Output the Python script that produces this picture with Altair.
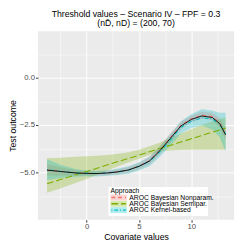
import altair as alt
import pandas as pd

# Covariate grid
x_vals = [-3.77, -2.5, -1, 0, 1, 2, 3, 4, 5, 6, 7, 8, 9, 10, 11, 12, 12.7, 13.27]

# True threshold curve (black)
true_curve = [-4.88, -4.95, -5.03, -5.05, -5.06, -5.03, -4.97, -4.87, -4.68, -4.40,
              -3.85, -3.20, -2.55, -2.20, -2.02, -2.10, -2.42, -3.02]

approaches = ["AROC Bayesian Nonparam.", "AROC Bayesian Semipar.", "AROC Kernel-based"]
colors = ["#F8766D", "#7CAE00", "#00BFC4"]
dashes = [[4, 3], [7, 3], [1, 2, 4, 2]]

# AROC Bayesian Nonparam.
np_est = [-4.87, -4.95, -5.03, -5.05, -5.06, -5.03, -4.97, -4.87, -4.67, -4.38,
          -3.82, -3.17, -2.52, -2.17, -1.98, -2.05, -2.38, -2.98]
np_lo = [-5.17, -5.17, -5.18, -5.17, -5.18, -5.15, -5.10, -5.02, -4.84, -4.58,
         -4.04, -3.39, -2.72, -2.35, -2.16, -2.25, -2.63, -3.28]
np_hi = [-4.57, -4.73, -4.88, -4.93, -4.94, -4.91, -4.84, -4.72, -4.50, -4.18,
         -3.60, -2.95, -2.32, -1.99, -1.80, -1.85, -2.13, -2.68]

# AROC Bayesian Semipar.
sp_est = [-5.60, -5.38, -5.12, -4.95, -4.78, -4.60, -4.43, -4.26, -4.09, -3.91,
          -3.74, -3.57, -3.40, -3.22, -3.05, -2.88, -2.76, -2.66]
sp_lo = [-6.08, -5.85, -5.55, -5.35, -5.12, -4.90, -4.68, -4.48, -4.28, -4.08,
         -3.90, -3.84, -3.82, -3.80, -3.80, -3.80, -3.80, -3.80]
sp_hi = [-4.25, -4.22, -4.18, -4.15, -4.12, -4.08, -4.02, -3.93, -3.80, -3.62,
         -3.42, -3.18, -2.95, -2.72, -2.50, -2.30, -2.18, -2.10]

# AROC Kernel-based
kb_est = [-4.85, -4.95, -5.03, -5.05, -5.06, -5.03, -4.97, -4.87, -4.68, -4.42,
          -3.90, -3.28, -2.62, -2.30, -2.12, -2.18, -2.45, -2.95]
kb_lo = [-5.40, -5.30, -5.23, -5.20, -5.21, -5.18, -5.14, -5.07, -4.90, -4.67,
         -4.18, -3.58, -2.94, -2.65, -2.52, -2.73, -3.15, -3.90]
kb_hi = [-4.30, -4.60, -4.83, -4.90, -4.91, -4.88, -4.80, -4.67, -4.46, -4.17,
         -3.62, -2.98, -2.30, -1.92, -1.67, -1.73, -1.85, -1.85]

x_ticks = [-2.5, 0, 2.5, 5, 7.5, 10, 12.5]
y_ticks = [-6.25, -5, -3.75, -2.5, -1.25, 0, 1.25]

FONT = "Liberation Sans"

rows = []
for name, est, lo, hi in [(approaches[0], np_est, np_lo, np_hi),
                          (approaches[1], sp_est, sp_lo, sp_hi),
                          (approaches[2], kb_est, kb_lo, kb_hi)]:
    for xv, e, l, h in zip(x_vals, est, lo, hi):
        rows.append({"x": xv, "Approach": name, "est": e, "lo": l, "hi": h})
df = pd.DataFrame(rows)
true_df = pd.DataFrame({"x": x_vals, "y": true_curve})

xscale = alt.Scale(domain=[-4.64, 14.08], nice=False, zero=False)
yscale = alt.Scale(domain=[-7.5, 2.45], nice=False, zero=False)

xaxis = alt.Axis(
    values=x_ticks, format="d", title="Covariate values",
    labelExpr="datum.value % 5 === 0 ? datum.label : ''",
    gridWidth={"condition": {"test": "datum.value % 5 === 0", "value": 1.0}, "value": 0.5},
    tickOpacity={"condition": {"test": "datum.value % 5 === 0", "value": 1}, "value": 0},
)
yaxis = alt.Axis(
    values=y_ticks, format=".1f", title="Test outcome",
    labelExpr="datum.value % 2.5 === 0 ? datum.label : ''",
    gridWidth={"condition": {"test": "datum.value % 2.5 === 0", "value": 1.0}, "value": 0.5},
    tickOpacity={"condition": {"test": "datum.value % 2.5 === 0", "value": 1}, "value": 0},
)

X = alt.X("x:Q", scale=xscale, axis=xaxis)

bands = alt.Chart(df).mark_area(opacity=0.28).encode(
    x=X,
    y=alt.Y("lo:Q", scale=yscale, axis=yaxis),
    y2="hi:Q",
    fill=alt.Fill("Approach:N", scale=alt.Scale(domain=approaches, range=colors), legend=None),
)

lines = alt.Chart(df).mark_line(strokeWidth=1.1).encode(
    x=X,
    y=alt.Y("est:Q", scale=yscale, axis=yaxis),
    stroke=alt.Stroke("Approach:N", scale=alt.Scale(domain=approaches, range=colors),
                      legend=None),
    strokeDash=alt.StrokeDash("Approach:N", scale=alt.Scale(domain=approaches, range=dashes),
                              legend=None),
)

true_line = alt.Chart(true_df).mark_line(color="black", strokeWidth=0.9).encode(
    x=X,
    y=alt.Y("y:Q", scale=yscale, axis=yaxis),
)

# ---- legend box (drawn inside the panel, like the reference) ----
one = alt.Data(values=[{"k": 1}])
LX0, LX1, LY0, LY1 = 73, 176, 161, 191
KX0, KX1 = 75, 92
row_y = [172, 178.5, 185]

legend_layers = [
    alt.Chart(one).mark_rect(fill="white").encode(
        x=alt.value(LX0), x2=alt.value(LX1), y=alt.value(LY0), y2=alt.value(LY1)),
    alt.Chart(one).mark_text(text="Approach", align="left", baseline="middle",
                             fontSize=7, font=FONT, color="black").encode(
        x=alt.value(LX0 + 2), y=alt.value(LY0 + 4.5)),
]
for name, col, dash, cy in zip(approaches, colors, dashes, row_y):
    legend_layers.append(
        alt.Chart(one).mark_rect(fill=col, opacity=0.3).encode(
            x=alt.value(KX0), x2=alt.value(KX1), y=alt.value(cy - 3.1), y2=alt.value(cy + 3.1)))
    legend_layers.append(
        alt.Chart(one).mark_rule(stroke=col, strokeDash=dash, strokeWidth=1.4).encode(
            x=alt.value(KX0 + 1), x2=alt.value(KX1 - 1), y=alt.value(cy)))
    legend_layers.append(
        alt.Chart(one).mark_text(text=name, align="left", baseline="middle",
                                 fontSize=7, font=FONT, color="black").encode(
            x=alt.value(KX1 + 2.5), y=alt.value(cy + 0.3)))

chart = alt.layer(bands, lines, true_line, *legend_layers).properties(
    width=203,
    height=195,
    title=alt.TitleParams(
        text="Threshold values \u2013 Scenario IV \u2013 FPF = 0.3",
        subtitle="(nD\u0304, nD) = (200, 70)",
        anchor="middle", frame="group", fontSize=9, subtitleFontSize=9,
        fontWeight="normal", color="black", subtitleColor="black",
        font=FONT, subtitleFont=FONT,
        offset=3, subtitlePadding=1,
    ),
    padding={"left": 31, "top": 20, "right": 3, "bottom": 22},
    autosize=alt.AutoSizeParams(type="none"),
).configure_view(
    fill="#EBEBEB", stroke=None,
).configure_axis(
    domain=False, gridColor="white", tickColor="#333333", tickSize=2.5,
    labelColor="#4D4D4D", labelFontSize=8, labelFont=FONT,
    titleFontSize=9, titleFontWeight="normal", titleFont=FONT,
    titleColor="black", labelPadding=1, titlePadding=2,
)

chart.save("out.html", embed_options={"renderer": "svg", "actions": False})
